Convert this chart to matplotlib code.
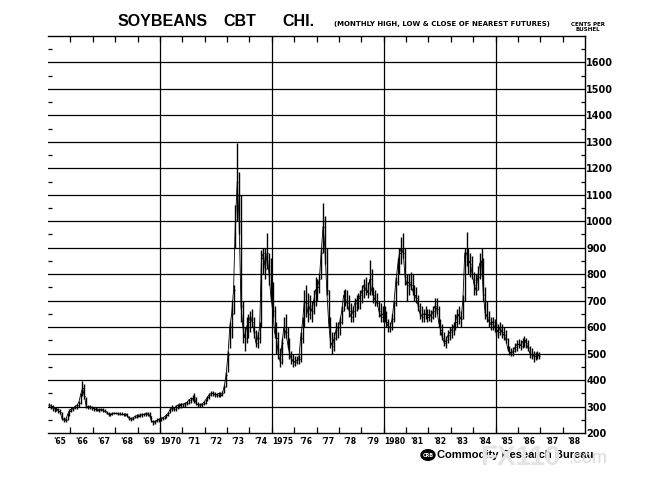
import matplotlib
matplotlib.use('Agg')
import matplotlib.pyplot as plt
import numpy as np

# monthly nearest futures, cents per bushel, one row per year 1965..1986
lows = [
    300, 290, 285, 280, 285, 275, 270, 250, 240, 242, 250, 265,  # 1965
    280, 285, 290, 290, 300, 310, 340, 330, 295, 290, 290, 288,  # 1966
    285, 285, 282, 280, 282, 280, 278, 270, 265, 265, 268, 270,  # 1967
    270, 268, 268, 268, 266, 265, 262, 250, 245, 250, 255, 258,  # 1968
    260, 262, 262, 265, 266, 265, 262, 240, 232, 235, 240, 242,  # 1969
    245, 250, 252, 258, 265, 275, 285, 282, 285, 290, 295, 295,  # 1970
    300, 300, 305, 310, 315, 320, 315, 305, 300, 298, 300, 305,  # 1971
    310, 320, 330, 340, 340, 335, 335, 335, 335, 340, 350, 375,  # 1972
    430, 520, 560, 650, 900, 1000, 950, 620, 540, 510, 540, 560,  # 1973
    580, 600, 560, 525, 520, 540, 600, 800, 780, 820, 760, 700,  # 1974
    640, 560, 500, 480, 450, 460, 560, 560, 520, 480, 460, 450,  # 1975
    455, 460, 460, 470, 540, 600, 640, 620, 630, 620, 650, 680,  # 1976
    700, 730, 780, 880, 840, 720, 600, 520, 500, 510, 550, 560,  # 1977
    570, 610, 660, 680, 670, 640, 620, 620, 640, 660, 670, 670,  # 1978
    690, 710, 720, 710, 720, 720, 690, 680, 680, 640, 620, 620,  # 1979
    620, 600, 580, 580, 590, 620, 680, 760, 800, 840, 860, 760,  # 1980
    700, 720, 740, 720, 700, 690, 660, 630, 620, 620, 630, 620,  # 1981
    625, 620, 630, 640, 650, 600, 570, 550, 530, 520, 540, 550,  # 1982
    560, 570, 590, 600, 610, 600, 630, 700, 830, 800, 790, 780,  # 1983
    720, 720, 740, 780, 790, 700, 630, 620, 600, 590, 590, 580,  # 1984
    570, 560, 570, 560, 550, 540, 510, 495, 490, 490, 505, 510,  # 1985
    520, 515, 520, 525, 520, 510, 485, 480, 470, 475, 480, 478,  # 1986
]
highs = [
    315, 310, 305, 300, 300, 295, 290, 280, 260, 258, 275, 290,
    300, 300, 305, 310, 320, 350, 395, 385, 335, 305, 305, 302,
    300, 298, 296, 295, 296, 294, 292, 285, 278, 275, 280, 280,
    280, 278, 278, 278, 276, 276, 274, 266, 260, 262, 268, 270,
    272, 274, 275, 276, 280, 280, 278, 265, 250, 250, 255, 258,
    260, 262, 266, 272, 280, 295, 305, 300, 305, 310, 315, 315,
    315, 318, 320, 330, 335, 345, 350, 335, 318, 312, 315, 320,
    330, 340, 350, 360, 358, 355, 352, 355, 355, 360, 380, 430,
    510, 620, 700, 760, 1060, 1295, 1185, 1100, 700, 600, 640, 650,
    660, 670, 640, 590, 580, 620, 890, 900, 900, 955, 880, 860,
    770, 680, 620, 580, 520, 560, 640, 650, 600, 560, 510, 500,
    490, 490, 495, 580, 640, 740, 760, 730, 720, 700, 740, 790,
    780, 800, 900, 1070, 1020, 900, 740, 640, 580, 580, 620, 620,
    640, 680, 740, 745, 740, 720, 690, 680, 710, 720, 730, 740,
    760, 780, 790, 770, 853, 820, 750, 740, 730, 700, 690, 680,
    680, 660, 630, 620, 650, 700, 790, 860, 900, 940, 955, 900,
    800, 800, 810, 800, 760, 750, 720, 690, 680, 670, 680, 670,
    670, 665, 680, 710, 710, 680, 630, 610, 580, 565, 590, 600,
    610, 620, 650, 670, 680, 660, 720, 900, 960, 900, 880, 870,
    810, 800, 830, 880, 900, 860, 750, 700, 660, 640, 640, 630,
    620, 610, 620, 610, 600, 590, 560, 530, 520, 525, 540, 550,
    555, 550, 560, 565, 560, 550, 530, 520, 510, 505, 510, 505,
]
closes = [
    305, 295, 300, 290, 290, 285, 280, 255, 248, 250, 270, 285,
    290, 295, 300, 305, 315, 345, 370, 340, 300, 298, 300, 295,
    292, 290, 288, 288, 290, 285, 282, 275, 270, 270, 274, 275,
    274, 272, 272, 270, 270, 272, 265, 255, 252, 258, 262, 265,
    266, 268, 270, 270, 275, 270, 265, 245, 240, 245, 248, 252,
    255, 258, 262, 268, 275, 290, 295, 290, 300, 305, 305, 310,
    308, 312, 315, 325, 330, 330, 335, 310, 308, 305, 310, 315,
    325, 335, 345, 350, 350, 345, 345, 350, 345, 350, 375, 420,
    495, 600, 650, 740, 1000, 1150, 1000, 680, 600, 560, 600, 620,
    640, 620, 580, 540, 560, 600, 860, 880, 820, 880, 800, 720,
    660, 580, 560, 500, 470, 540, 600, 580, 540, 500, 480, 470,
    470, 475, 480, 560, 620, 700, 690, 650, 680, 660, 700, 740,
    750, 780, 880, 980, 900, 740, 620, 540, 530, 560, 590, 600,
    620, 660, 720, 700, 690, 660, 640, 660, 690, 700, 710, 720,
    740, 760, 740, 730, 780, 740, 720, 700, 690, 660, 640, 650,
    640, 620, 600, 600, 630, 690, 770, 830, 880, 900, 880, 790,
    760, 770, 760, 740, 720, 710, 680, 650, 640, 650, 650, 640,
    650, 640, 660, 680, 670, 620, 590, 560, 540, 550, 570, 580,
    590, 600, 620, 650, 640, 630, 700, 880, 880, 850, 840, 800,
    760, 740, 790, 840, 850, 720, 650, 640, 620, 610, 620, 600,
    590, 580, 600, 580, 570, 555, 520, 505, 500, 510, 525, 535,
    535, 530, 545, 550, 540, 520, 500, 495, 490, 490, 495, 490,
]
first_year = 1965
year_labels = ["'65", "'66", "'67", "'68", "'69", "1970", "'71", "'72", "'73", "'74",
               "1975", "'76", "'77", "'78", "'79", "1980", "'81", "'82", "'83", "'84",
               "'85", "'86", "'87", "'88"]
price_ticks = list(range(200, 1700, 100))

narrow = ['Liberation Sans Narrow', 'DejaVu Sans']
bold = ['Liberation Sans', 'DejaVu Sans']

fig = plt.figure(figsize=(6.59, 4.98), dpi=100)
ax = fig.add_axes([48 / 659, 1 - 433 / 498, (585 - 48) / 659, (433 - 36) / 498])

t = first_year + (np.arange(len(closes)) + 0.5) / 12.0
ax.vlines(t, lows, highs, color='black', lw=1.0)
ax.hlines(closes, t, t + 0.05, color='black', lw=0.8)
ax.plot(t, closes, color='black', lw=0.6)

ax.set_xlim(1965, 1989)
ax.set_ylim(200, 1700)

# grid
for v in price_ticks[1:]:
    ax.axhline(v, color='black', lw=0.9, zorder=0)
for yr in [1970, 1975, 1980, 1985]:
    ax.axvline(yr, color='black', lw=0.9, zorder=0)

ax.spines['left'].set_visible(False)
for s in ['top', 'bottom', 'right']:
    ax.spines[s].set_linewidth(1.0)

# years
ax.set_xticks(np.arange(1966, 1989))
ax.set_xticklabels([])
ax.set_xticks(np.arange(1965, 1989) + 0.5, minor=True)
ax.set_xticklabels(year_labels, minor=True, fontsize=5.5, fontweight='bold', family=narrow)
ax.tick_params(axis='x', which='major', direction='in', length=4, width=0.9,
               top=True, bottom=True)
ax.tick_params(axis='x', which='minor', length=0, pad=3)

# prices on the right
ax.yaxis.tick_right()
ax.set_yticks(price_ticks)
ax.set_yticklabels([str(v) for v in price_ticks], fontsize=7, fontweight='bold', family=narrow)
ax.set_yticks(np.arange(250, 1700, 100), minor=True)
ax.tick_params(axis='y', which='major', length=0, pad=1)
ax.tick_params(axis='y', which='minor', direction='in', length=3, width=0.9,
               left=True, right=True)

# titles
fig.text(163 / 659, 1 - 22 / 498, 'SOYBEANS', fontsize=11.5, fontweight='bold',
         family=bold, ha='center', va='center')
fig.text(240 / 659, 1 - 22 / 498, 'CBT', fontsize=11.5, fontweight='bold',
         family=bold, ha='center', va='center')
fig.text(298 / 659, 1 - 22 / 498, 'CHI.', fontsize=11.5, fontweight='bold',
         family=bold, ha='center', va='center')
fig.text(442 / 659, 1 - 24 / 498, '(MONTHLY HIGH, LOW & CLOSE OF NEAREST FUTURES)',
         fontsize=5.0, fontweight='bold', family=narrow, ha='center', va='center')
fig.text(588 / 659, 1 - 27 / 498, 'CENTS PER\nBUSHEL', fontsize=4, fontweight='bold',
         family=narrow, ha='center', va='center', linespacing=1.1)

# publisher
fig.patches.append(plt.Circle((428 / 659, 1 - 455 / 498), 7 / 659, transform=fig.transFigure,
                              facecolor='black', edgecolor='black'))
fig.text(428 / 659, 1 - 455 / 498, 'CRB', fontsize=3.5, color='white', fontweight='bold',
         ha='center', va='center')
fig.text(437 / 659, 1 - 455 / 498, 'Commodity Research Bureau', fontsize=8,
         fontweight='bold', family=bold, ha='left', va='center')
fig.text(480 / 659, 1 - 458 / 498, 'FX110', fontsize=20, fontweight='bold', family=bold,
         color='#e4e4e4', ha='left', va='center', zorder=5)
fig.text(568 / 659, 1 - 458 / 498, '.com', fontsize=13, family=bold,
         color='#dadada', ha='left', va='center', zorder=5)

fig.savefig('out.png', dpi=100, facecolor='white')
